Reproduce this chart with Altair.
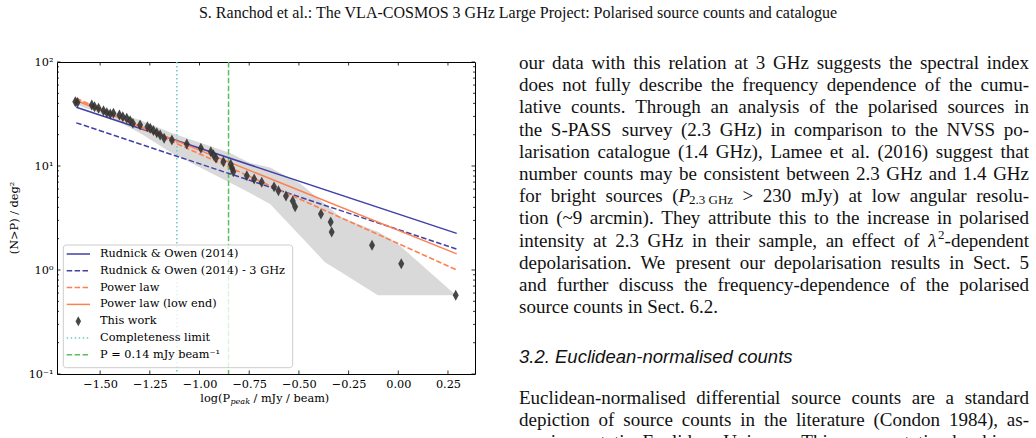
import altair as alt
import pandas as pd

# ---------------- data ----------------
pts_logp = [-1.625, -1.614, -1.542, -1.528, -1.508, -1.483, -1.466, -1.449, -1.433, -1.403,
            -1.386, -1.366, -1.349, -1.335, -1.299, -1.262, -1.248, -1.232, -1.215, -1.198,
            -1.178, -1.139, -1.064, -0.993, -0.943, -0.930, -0.917, -0.880, -0.843, -0.836,
            -0.830, -0.762, -0.725, -0.687, -0.625, -0.603, -0.565, -0.531, -0.519, -0.389,
            -0.340, -0.335, -0.132, 0.015, 0.289]
pts_n = [41.5, 40.8, 38.6, 37.2, 35.9, 34.0, 32.6, 31.6, 32.1, 30.9,
         29.8, 28.8, 27.3, 25.7, 24.8, 23.9, 23.1, 21.9, 20.9, 19.9,
         18.5, 17.8, 16.3, 14.8, 13.7, 12.8, 11.9, 11.0, 10.4, 9.5,
         8.8, 8.07, 7.5, 6.97, 6.3, 5.79, 5.15, 4.6, 4.06, 3.45,
         2.89, 2.32, 1.73, 1.15, 0.571]

band_logp = [-1.62, -1.45, -1.30, -1.14, -0.846, -0.746, -0.645, -0.494, -0.369, -0.293,
             -0.127, -0.102, -0.007, 0.290]
band_upper = [44.0, 33.8, 27.7, 20.8, 13.3, 10.7, 9.7, 6.8, 4.3, 3.25,
              2.42, 2.33, 1.82, 0.571]
band_lower = [39.0, 29.6, 20.8, 13.3, 6.9, 5.5, 4.3, 2.14, 1.19, 0.968,
              0.612, 0.571, 0.571, 0.571]

model_logp = [-1.62, 0.294]
ro14 = [36.7, 2.25]
ro14_3ghz = [26.0, 1.59]
powerlaw = [44.8, 1.0]
powerlaw_low = [42.6, 1.43]

completeness = [-1.114]
p014 = [-0.854]

x_ticks = [-1.5, -1.25, -1.0, -0.75, -0.5, -0.25, 0.0, 0.25]
y_major = [0.1, 1, 10, 100]
y_minor = [m * d for d in [0.1, 1, 10] for m in [2, 3, 4, 5, 6, 7, 8, 9]]

legend_labels = ["Rudnick & Owen (2014)", "Rudnick & Owen (2014) - 3 GHz", "Power law",
                 "Power law (low end)", "This work", "Completeness limit",
                 "P = 0.14 mJy beam\u207b\u00b9"]

header = "S. Ranchod et al.: The VLA-COSMOS 3 GHz Large Project: Polarised source counts and catalogue"
# words; a word given as a list holds (text, style) segments
para1 = [
    "our data with this relation at 3 GHz suggests the spectral index",
    "does not fully describe the frequency dependence of the cumu-",
    "lative counts. Through an analysis of the polarised sources in",
    "the S-PASS survey (2.3 GHz) in comparison to the NVSS po-",
    "larisation catalogue (1.4 GHz), Lamee et al. (2016) suggest that",
    "number counts may be consistent between 2.3 GHz and 1.4 GHz",
    ["for", "bright", "sources", [("(", "n"), ("P", "i"), ("2.3 GHz", "sub")], ">", "230",
     "mJy)", "at", "low", "angular", "resolu-"],
    "tion (~9 arcmin). They attribute this to the increase in polarised",
    ["intensity", "at", "2.3", "GHz", "in", "their", "sample,", "an", "effect", "of",
     [("\u03bb", "i"), ("2", "sup"), ("-dependent", "n")]],
    "depolarisation. We present our depolarisation results in Sect. 5",
    "and further discuss the frequency-dependence of the polarised",
    "source counts in Sect. 6.2.",
]
heading = "3.2. Euclidean-normalised counts"
para2 = [
    "Euclidean-normalised differential source counts are a standard",
    "depiction of source counts in the literature (Condon 1984), as-",
    "suming a static, Euclidean Universe. This representation has his-",
]

# ---------------- layout constants ----------------
W, H = 418, 312
OX, OY = 57, 62  # plot origin in the page
SERIF = "DejaVu Serif"
FS = 11.3

BLUE = "#4040a8"
ORANGE = "#ff7f50"
CYAN = "#70c8c8"
GREEN = "#5cbf5c"

xs = alt.Scale(domain=[-1.717, 0.386], nice=False, zero=False)
ys = alt.Scale(type="log", domain=[0.1, 100], nice=False)

xaxis = alt.Axis(values=x_ticks, labelExpr="replace(format(datum.value, '.2f'), '-', '\u2212')",
                 ticks=False, domain=False, grid=False, title=None, labelFont=SERIF,
                 labelFontSize=FS, labelColor="black", labelPadding=4, labelFlush=False)
yaxis = alt.Axis(values=y_major,
                 labelExpr="datum.value > 50 ? '10\u00b2' : datum.value > 5 ? '10\u00b9' : datum.value > 0.5 ? '10\u2070' : '10\u207b\u00b9'",
                 ticks=False, domain=False, grid=False, title=None, labelFont=SERIF,
                 labelFontSize=FS, labelColor="black", labelPadding=4, labelFlush=False)

one = pd.DataFrame({"a": [0]})
layers = []

band_df = pd.DataFrame({"logp": band_logp, "upper": band_upper, "lower": band_lower})
layers.append(alt.Chart(band_df).mark_area(color="#d9d9d9").encode(
    x=alt.X("logp:Q", scale=xs, axis=xaxis),
    y=alt.Y("upper:Q", scale=ys, axis=yaxis),
    y2="lower:Q"))

vl_df = pd.DataFrame({"x": completeness})
layers.append(alt.Chart(vl_df).mark_rule(color=CYAN, strokeWidth=1.5, strokeDash=[1.5, 2.5]).encode(
    x=alt.X("x:Q", scale=xs), y=alt.value(0), y2=alt.value(H)))
vg_df = pd.DataFrame({"x": p014})
layers.append(alt.Chart(vg_df).mark_rule(color=GREEN, strokeWidth=1.5, strokeDash=[5.5, 2.4]).encode(
    x=alt.X("x:Q", scale=xs), y=alt.value(0), y2=alt.value(H)))

for vals, col, dash in [(ro14, BLUE, None), (ro14_3ghz, BLUE, [5.5, 2.4]),
                        (powerlaw, ORANGE, [5.5, 2.4]), (powerlaw_low, ORANGE, None)]:
    df = pd.DataFrame({"logp": model_logp, "n": vals})
    kw = dict(color=col, strokeWidth=1.5)
    if dash:
        kw["strokeDash"] = dash
    layers.append(alt.Chart(df).mark_line(**kw).encode(
        x=alt.X("logp:Q", scale=xs), y=alt.Y("n:Q", scale=ys)))

DIAMOND = "M0,-1L0.55,0L0,1L-0.55,0Z"
pts_df = pd.DataFrame({"logp": pts_logp, "n": pts_n})
layers.append(alt.Chart(pts_df).mark_point(shape=DIAMOND, filled=True, size=120,
                                           color="#333333", opacity=0.9).encode(
    x=alt.X("logp:Q", scale=xs), y=alt.Y("n:Q", scale=ys)))

# inward ticks on all four sides
xt = pd.DataFrame({"v": x_ticks})
layers.append(alt.Chart(xt).mark_rule(color="black", strokeWidth=0.8).encode(
    x=alt.X("v:Q", scale=xs), y=alt.value(H), y2=alt.value(H - 3.5)))
layers.append(alt.Chart(xt).mark_rule(color="black", strokeWidth=0.8).encode(
    x=alt.X("v:Q", scale=xs), y=alt.value(0), y2=alt.value(3.5)))
for vals, ln in [(y_major, 3.5), (y_minor, 2)]:
    yt = pd.DataFrame({"v": vals})
    layers.append(alt.Chart(yt).mark_rule(color="black", strokeWidth=0.8).encode(
        y=alt.Y("v:Q", scale=ys), x=alt.value(0), x2=alt.value(ln)))
    layers.append(alt.Chart(yt).mark_rule(color="black", strokeWidth=0.8).encode(
        y=alt.Y("v:Q", scale=ys), x=alt.value(W), x2=alt.value(W - ln)))

# legend
layers.append(alt.Chart(one).mark_rect(fill="white", fillOpacity=0.8, stroke="#cccccc",
                                       strokeWidth=1, cornerRadius=3).encode(
    x=alt.value(6.3), x2=alt.value(235.7), y=alt.value(183), y2=alt.value(305.7)))
leg_styles = [(BLUE, None, "line"), (BLUE, [5.5, 2.4], "line"), (ORANGE, [5.5, 2.4], "line"),
              (ORANGE, None, "line"), ("#333333", None, "point"), (CYAN, [1.5, 2.5], "line"),
              (GREEN, [5.5, 2.4], "line")]
for i, (lab, (col, dash, kind)) in enumerate(zip(legend_labels, leg_styles)):
    ry = 192 + i * 16.8
    if kind == "line":
        kw = dict(color=col, strokeWidth=1.5)
        if dash:
            kw["strokeDash"] = dash
        layers.append(alt.Chart(one).mark_rule(**kw).encode(
            x=alt.value(9.7), x2=alt.value(33), y=alt.value(ry)))
    else:
        layers.append(alt.Chart(one).mark_point(shape=DIAMOND, filled=True, size=100,
                                                color=col, opacity=0.9).encode(
            x=alt.value(21.3), y=alt.value(ry)))
    layers.append(alt.Chart(one).mark_text(text=lab, font=SERIF, fontSize=FS, align="left",
                                           baseline="middle", color="black").encode(
        x=alt.value(43), y=alt.value(ry)))

# axis titles
layers.append(alt.Chart(one).mark_text(text="log(P", font=SERIF, fontSize=FS, align="right",
                                       baseline="middle", color="black").encode(
    x=alt.value(230 - OX), y=alt.value(399 - OY)))
layers.append(alt.Chart(one).mark_text(text="peak", font=SERIF, fontSize=8, fontStyle="italic",
                                       align="left", baseline="middle", color="black").encode(
    x=alt.value(230.5 - OX), y=alt.value(402 - OY)))
layers.append(alt.Chart(one).mark_text(text="/ mJy / beam)", font=SERIF, fontSize=FS, align="left",
                                       baseline="middle", color="black").encode(
    x=alt.value(253.5 - OX), y=alt.value(399 - OY)))
layers.append(alt.Chart(one).mark_text(text="(N>P) / deg\u00b2", font=SERIF, fontSize=FS, angle=270,
                                       align="center", baseline="middle", color="black").encode(
    x=alt.value(15 - OX), y=alt.value(218 - OY)))

# ---------------- page text (justified by estimated Times widths) ----------------
TW = {" ": 250, "(": 333, ")": 333, ",": 250, "-": 333, ".": 250, "~": 541, ">": 564, ":": 278}
for c in "0123456789":
    TW[c] = 500
for c, w in zip("ABCDEFGHIJKLMNOPQRSTUVWXYZ",
                [722, 667, 667, 722, 611, 556, 722, 722, 333, 389, 722, 611, 889, 722, 722, 556,
                 722, 667, 556, 611, 722, 722, 944, 722, 722, 611]):
    TW[c] = w
for c, w in zip("abcdefghijklmnopqrstuvwxyz",
                [444, 500, 444, 500, 444, 333, 500, 500, 278, 278, 500, 278, 778, 500, 500, 500,
                 500, 333, 389, 278, 500, 500, 722, 500, 500, 444]):
    TW[c] = w
TW["\u03bb"] = 520

BODY = 19
SUBS = 13
COL_L, COL_R = 519, 1029


def seg_size(style):
    return SUBS if style in ("sub", "sup") else BODY


def seg_w(text, style):
    return sum(TW.get(c, 500) for c in text) / 1000 * seg_size(style)


def as_words(line):
    ws = line.split(" ") if isinstance(line, str) else line
    return [[(w, "n")] if isinstance(w, str) else w for w in ws]


text_rows = []


def add_para(lines, y0, dy):
    for li, line in enumerate(lines):
        words = as_words(line)
        widths = [sum(seg_w(t, s) for t, s in w) for w in words]
        last = li == len(lines) - 1
        gap = BODY * 0.25 if last else (COL_R - COL_L - sum(widths)) / (len(words) - 1)
        x = COL_L
        y = y0 + li * dy
        for w, ww in zip(words, widths):
            sx = x
            for t, s in w:
                off = 4 if s == "sub" else (-6 if s == "sup" else 0)
                text_rows.append({"t": t, "x": sx - OX, "y": y + off - OY, "s": s})
                sx += seg_w(t, s)
            x += ww + gap


add_para(para1, 63, 22.2)
add_para(para2, 398, 22)
txt_df = pd.DataFrame(text_rows)
for style, size, fstyle in [("n", BODY, "normal"), ("i", BODY, "italic"),
                            ("sub", SUBS, "normal"), ("sup", SUBS, "normal")]:
    layers.append(alt.Chart(txt_df).transform_filter(alt.datum.s == style).mark_text(
        font="Liberation Serif", fontSize=size, fontStyle=fstyle, align="left",
        baseline="middle", color="#111111").encode(
        x=alt.X("x:Q", scale=None), y=alt.Y("y:Q", scale=None), text="t:N"))

layers.append(alt.Chart(one).mark_text(text=header, font="Liberation Serif", fontSize=16,
                                       align="center", baseline="middle", color="#111111").encode(
    x=alt.value(518 - OX), y=alt.value(13 - OY)))
layers.append(alt.Chart(one).mark_text(text=heading, font="Liberation Sans", fontSize=18.5,
                                       fontStyle="italic", align="left", baseline="middle",
                                       color="#111111").encode(
    x=alt.value(519 - OX), y=alt.value(357 - OY)))

chart = alt.layer(*layers).properties(
    width=W, height=H,
    autosize=alt.AutoSizeParams(type="none"),
    padding={"left": OX, "top": OY, "right": 1036 - OX - W, "bottom": 438 - OY - H},
    background="white",
).configure_view(stroke="black", strokeWidth=1)

chart.save("out.html", embed_options={"renderer": "svg", "actions": False})
